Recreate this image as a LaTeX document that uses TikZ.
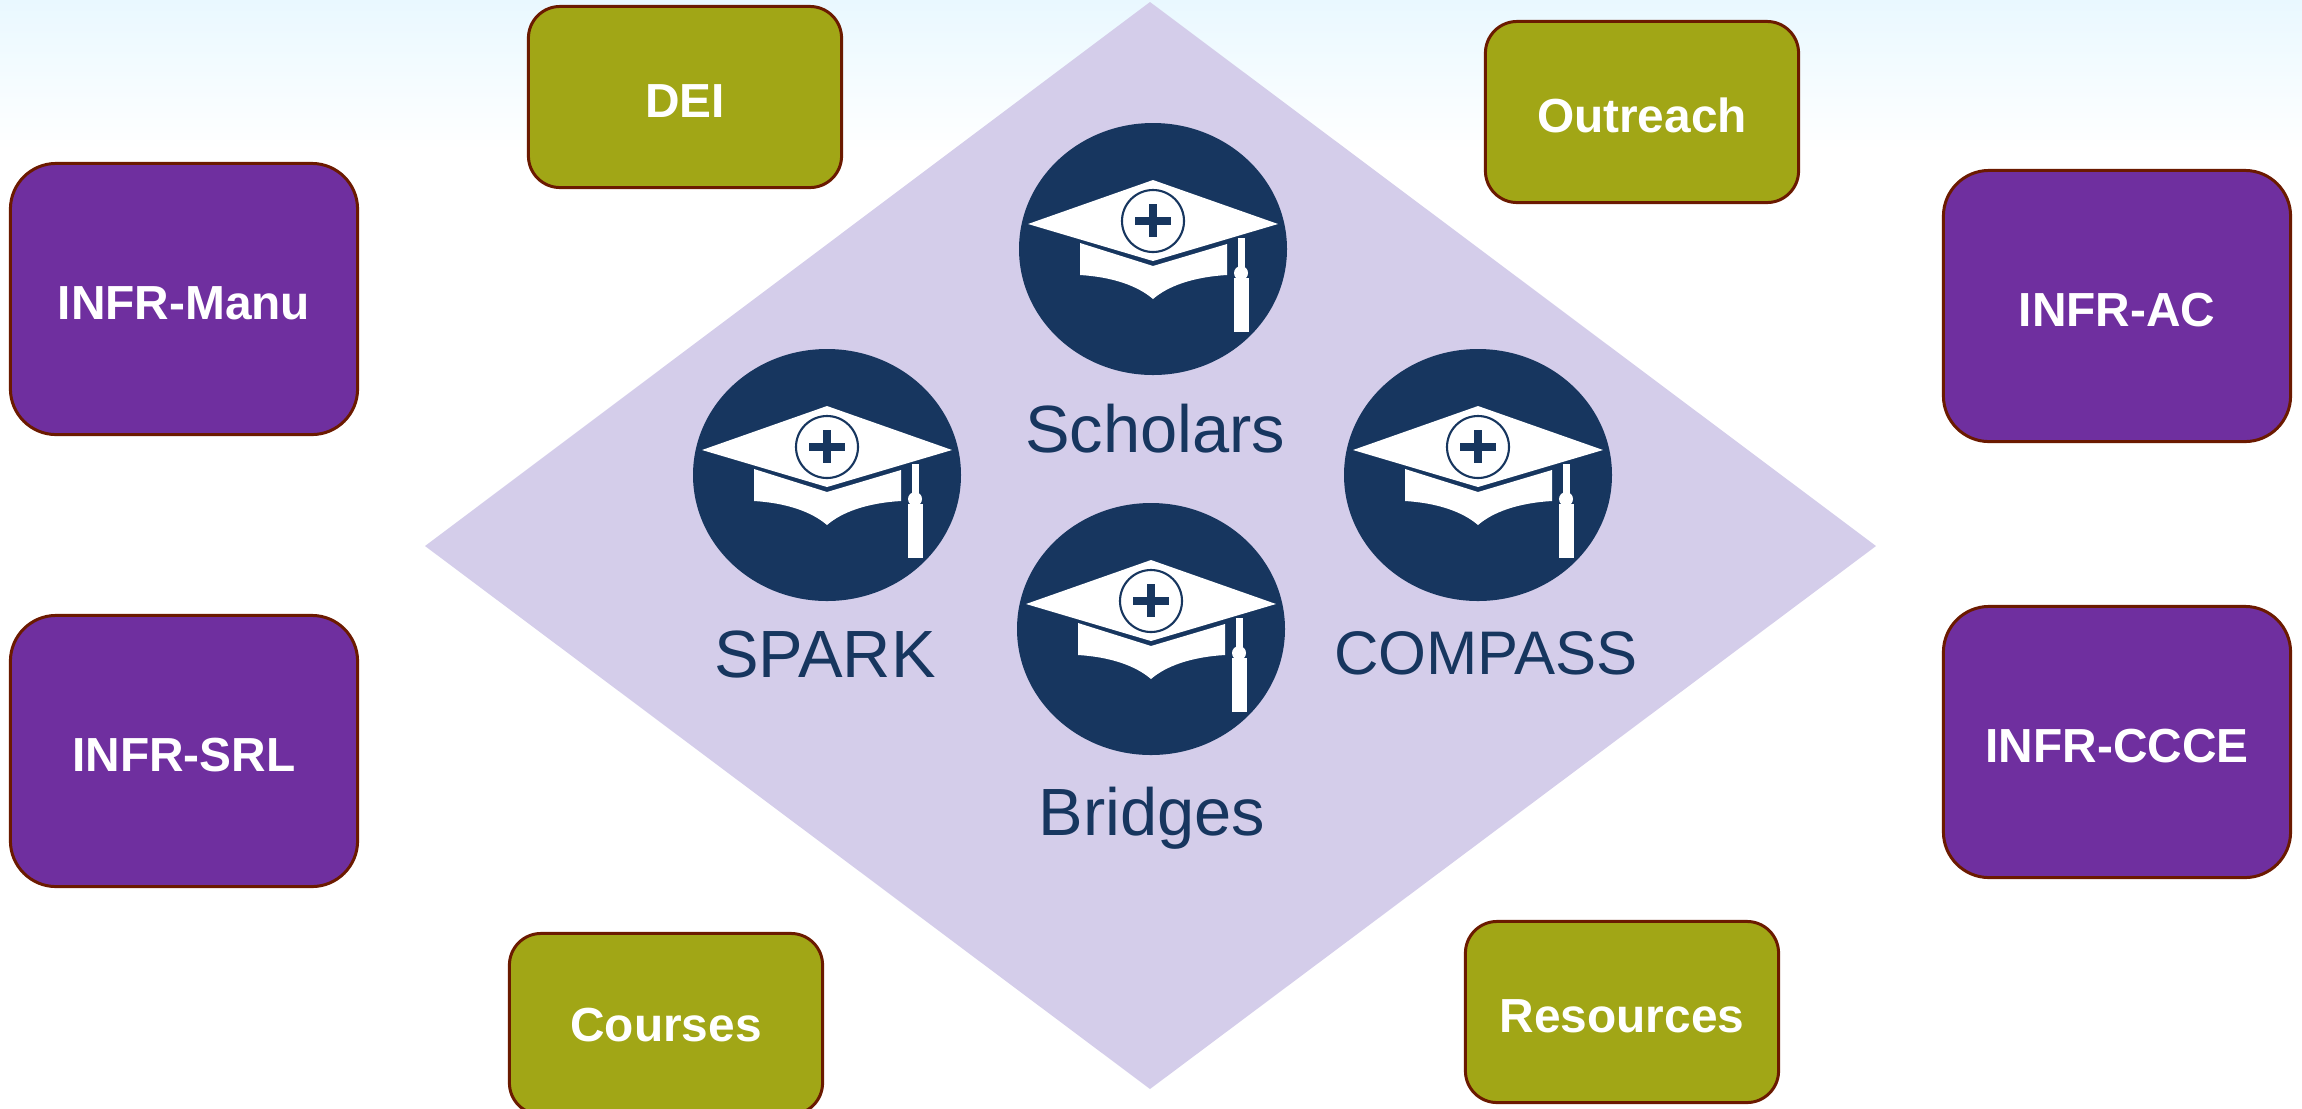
\documentclass[tikz,border=0pt]{standalone}
\usepackage{fontspec}
\setmainfont{Liberation Sans}
\definecolor{navy}{RGB}{23,54,95}
\definecolor{lilac}{RGB}{212,205,234}
\definecolor{olive}{RGB}{161,166,22}
\definecolor{plum}{RGB}{111,47,159}
\definecolor{rust}{RGB}{107,26,0}
\definecolor{sky}{RGB}{233,248,255}
\tikzset{
	infrbox/.style={draw=rust, line width=.85pt, fill=plum, rounded corners=13pt, minimum width=3.47cm, minimum height=2.71cm, text=white, font=\fontsize{13.6}{16}\selectfont\bfseries, inner sep=0pt, text height=.4cm, text depth=0pt},
	topicbox/.style={draw=rust, line width=.85pt, fill=olive, rounded corners=9pt, minimum width=3.13cm, minimum height=1.81cm, text=white, font=\fontsize{13.6}{16}\selectfont\bfseries, inner sep=0pt, text height=.4cm, text depth=0pt},
	grouplabel/.style={text=navy, font=\fontsize{19}{22}\selectfont, inner sep=0pt},
	gradcap/.pic={
		\fill[navy] (0,0) ellipse (134 and 126);
		\fill[white] (0,-69) -- (125,-25) -- (0,12) -- (-125,-25) -- cycle;
		\fill[white] (-73,-6) -- (0,17) -- (74,-5) -- (74,26) .. controls (40,28) and (15,37) .. (0,50) .. controls (-15,37) and (-40,28) .. (-73,26) -- cycle;
		\draw[navy, line width=.6pt] (0,-28) circle (31);
		\fill[navy] (-18,-32) rectangle ++(36,8);
		\fill[navy] (-4,-45) rectangle ++(8,33);
		\fill[white] (85,-11) rectangle (92,21);
		\fill[white] (88,24) circle (7);
		\fill[white] (81,29) rectangle (96,83);
	}
}
\begin{document}
\begin{tikzpicture}[x=.01cm, y=-.01cm]
	\clip (0,0) rectangle (2302,1108);
	\shade[top color=sky, bottom color=white, draw=none] (0,0) rectangle (2302,150);
	\fill[lilac] (1150,2) -- (1876,546) -- (1150,1089) -- (425,546) -- cycle;
	\foreach \x/\y in {1153/249, 827/475, 1478/475, 1151/629} {
		\pic at (\x,\y) {gradcap};
	}
	\node[grouplabel] (scholars) at (1155,429) {Scholars};
	\node[grouplabel] (spark) at (825,654) {SPARK};
	\node[grouplabel, font=\fontsize{17.5}{22}\selectfont] (compass) at (1486,653) {COMPASS};
	\node[grouplabel] (bridges) at (1152,818) {Bridges};
	\node[infrbox] (manu) at (184,299) {INFR-Manu};
	\node[infrbox] (srl) at (184,751) {INFR-SRL};
	\node[infrbox] (ac) at (2117,306) {INFR-AC};
	\node[infrbox] (ccce) at (2117,742) {INFR-CCCE};
	\node[topicbox] (dei) at (685,97) {DEI};
	\node[topicbox] (outreach) at (1642,112) {Outreach};
	\node[topicbox, text height=.34cm] (courses) at (666,1024) {Courses};
	\node[topicbox] (resources) at (1622,1012) {Resources};
\end{tikzpicture}
\end{document}
